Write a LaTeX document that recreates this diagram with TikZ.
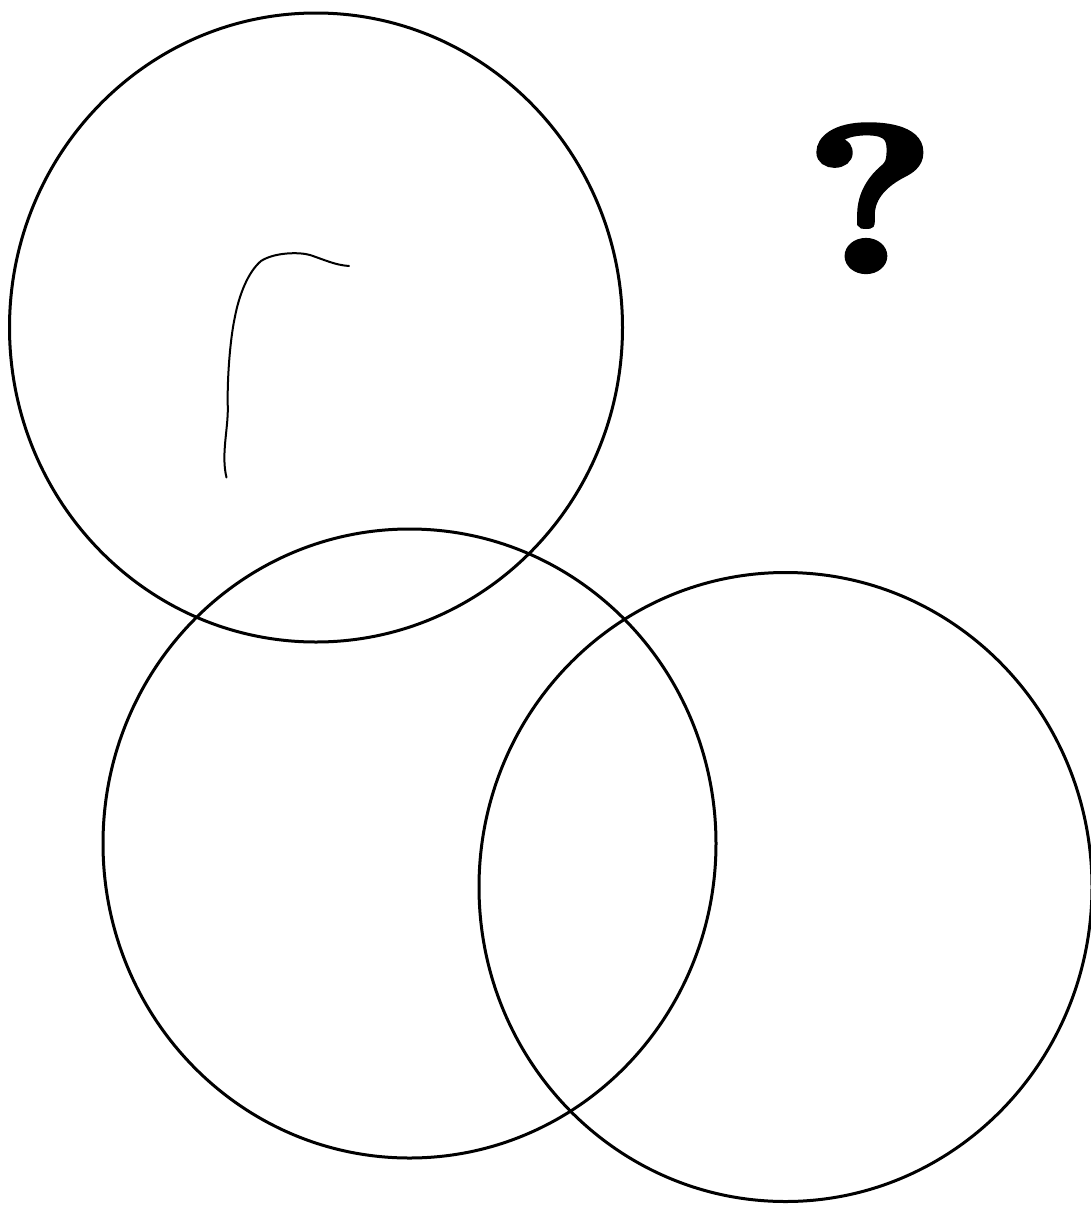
\documentclass[tikz,border=0pt]{standalone}
\usepackage{fontspec}
\newfontfamily\qmarkfont{Latin Modern Roman}[BoldFeatures={FakeBold=3}]
\begin{document}
\begin{tikzpicture}[x=1pt,y=-1pt,
  ring/.style={draw=black, line width=3pt},
  penstroke/.style={draw=black, line width=2pt, line cap=round, line join=round}]
\useasboundingbox (0,0) rectangle (1090,1205);
\fill[white] (0,0) rectangle (1090,1205);
% three overlapping circles
\draw[ring] (316,327.5) ellipse [x radius=306.5, y radius=314.5];
\draw[ring] (409.5,843.5) ellipse [x radius=306.5, y radius=314.5];
\draw[ring] (785.5,887) ellipse [x radius=306.5, y radius=314.5];
% question mark
\node[inner sep=0pt, anchor=base, xscale=1.18, font=\fontsize{208}{208}\selectfont\qmarkfont\bfseries] (q) at (870,271) {?};
% stray stroke inside the top circle
\draw[penstroke] (226.5,477.5) .. controls (221,455) and (228,430) .. (227.8,408)
  .. controls (227,380) and (230,340) .. (234.7,318)
  .. controls (239,295) and (248,272) .. (261,261)
  .. controls (275,252) and (300,252) .. (310,255)
  .. controls (325,260) and (335,265) .. (349,266);
\end{tikzpicture}
\end{document}
